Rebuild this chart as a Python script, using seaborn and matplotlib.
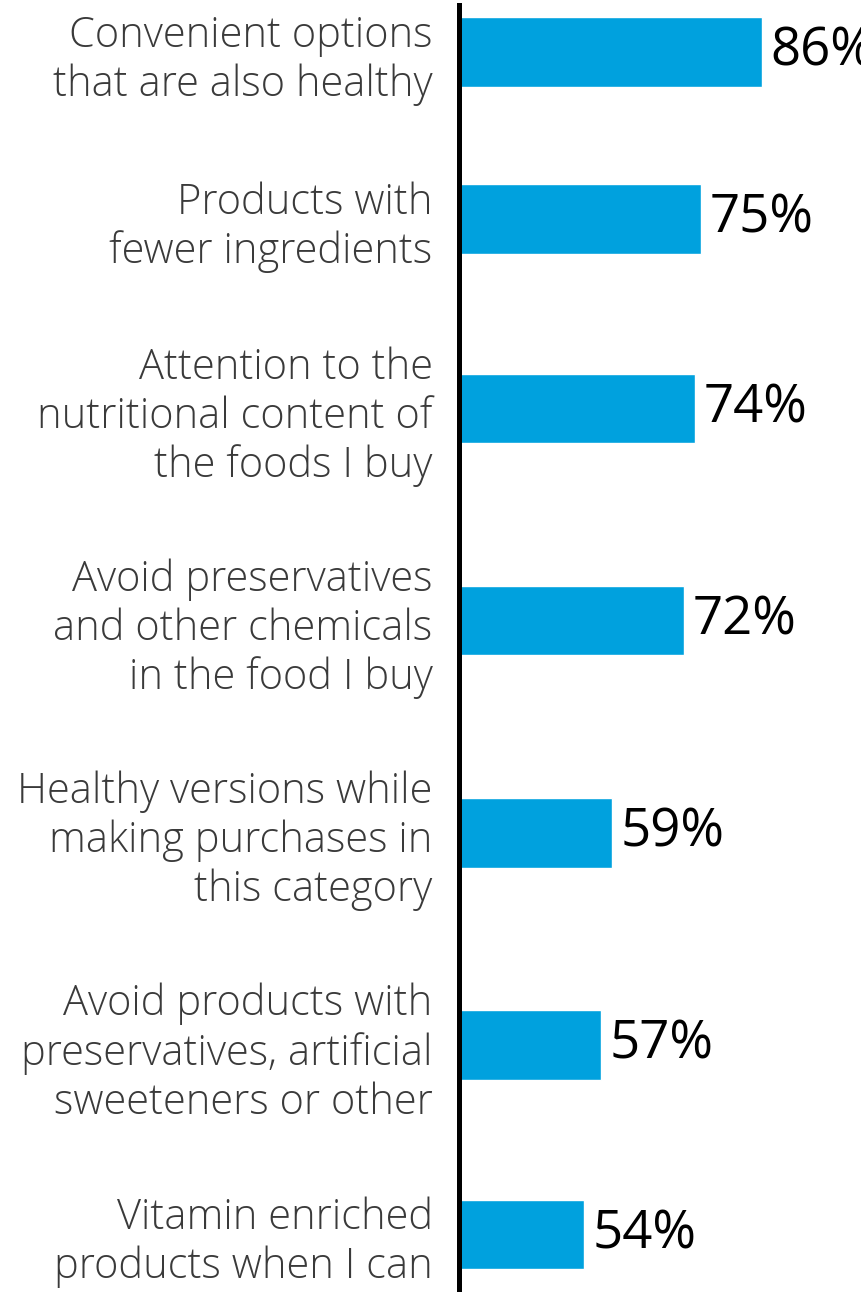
import matplotlib
matplotlib.use("Agg")
import matplotlib.pyplot as plt
import seaborn as sns
import pandas as pd

# Survey answers and their shares (%)
categories = [
    "Convenient options\nthat are also healthy",
    "Products with\nfewer ingredients",
    "Attention to the\nnutritional content of\nthe foods I buy",
    "Avoid preservatives\nand other chemicals\nin the food I buy",
    "Healthy versions while\nmaking purchases in\nthis category",
    "Avoid products with\npreservatives, artificial\nsweeteners or other",
    "Vitamin enriched\nproducts when I can",
]
values = [86, 75, 74, 72, 59, 57, 54]
value_labels = [f"{v}%" for v in values]

BAR_COLOR = "#00A1DE"
TEXT_COLOR = "#3a3a3a"

# Row positions: each row makes room for its (multi-line) label plus a fixed gap
line_counts = [c.count("\n") + 1 for c in categories]
row_gap = 1.7
positions = [0.0]
for prev, nxt in zip(line_counts[:-1], line_counts[1:]):
    positions.append(positions[-1] + (prev + nxt) / 2 + row_gap)

df = pd.DataFrame({"category": categories, "value": values, "pos": positions})

sns.set_theme(style="white")
plt.rcParams["font.family"] = ["Open Sans", "DejaVu Sans"]

fig = plt.figure(figsize=(8.62, 12.92), dpi=100)
ax = fig.add_axes([0.5325, 0.002, 0.4675, 0.994])

min_gap = min(b - a for a, b in zip(positions[:-1], positions[1:]))
bar_thickness = 1.54
sns.barplot(data=df, x="value", y="pos", orient="h", native_scale=True,
            width=bar_thickness / min_gap, color=BAR_COLOR, saturation=1,
            errorbar=None, ax=ax)

ax.set_xlim(31.4, 104.0)
ax.set_ylim(positions[-1] + 1.22, positions[0] - 1.04)

ax.set_yticks(positions)
ax.set_yticklabels(categories)
for lbl in ax.get_yticklabels():
    lbl.set_fontsize(30)
    lbl.set_fontweight("light")
    lbl.set_color(TEXT_COLOR)
    lbl.set_linespacing(1.2)
ax.tick_params(axis="y", length=0, pad=19)
ax.set_xticks([])
ax.set_xlabel("")
ax.set_ylabel("")

for side in ("top", "right", "bottom"):
    ax.spines[side].set_visible(False)
ax.spines["left"].set_color("black")
ax.spines["left"].set_linewidth(3.6)

ax.bar_label(ax.containers[0], labels=value_labels, padding=6,
             fontsize=38, color="black", clip_on=False)

fig.savefig("out.png", dpi=100)
